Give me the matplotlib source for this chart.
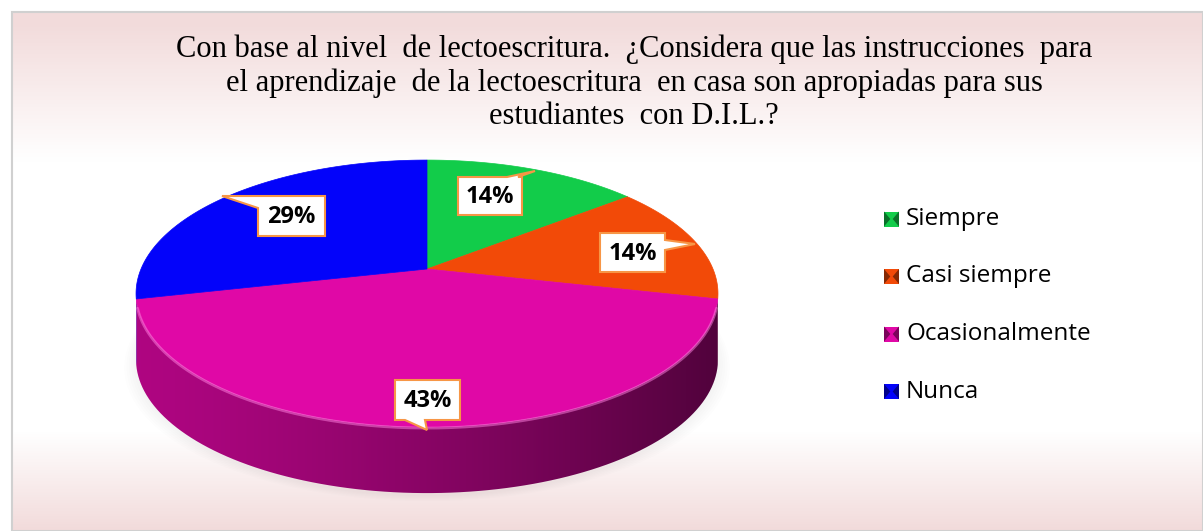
import numpy as np
import matplotlib.pyplot as plt
from matplotlib.patches import Polygon, Rectangle

# datos
categorias = ['Siempre', 'Casi siempre', 'Ocasionalmente', 'Nunca']
frecuencias = [1, 1, 3, 2]
colores = [(0.07, 0.80, 0.29), (0.95, 0.29, 0.03), (0.88, 0.03, 0.65), (0.01, 0.01, 0.98)]
titulo = ('Con base al nivel  de lectoescritura.  \u00bfConsidera que las instrucciones  para\n'
          'el aprendizaje  de la lectoescritura  en casa son apropiadas para sus\n'
          'estudiantes  con D.I.L.?')

W, H = 1203, 531
fig = plt.figure(figsize=(W / 100, H / 100), dpi=100)
ax = fig.add_axes([0, 0, 1, 1])
ax.set_xlim(0, W)
ax.set_ylim(H, 0)
ax.axis('off')

# fondo con degradado
yy = np.linspace(0, 1, 300)[:, None]
top = np.clip(1 - (yy * H - 12) / 140, 0, 1)
bot = np.clip((yy * H - 430) / 100, 0, 1)
a = np.maximum(top, bot)
rosa = np.array([0.95, 0.86, 0.86])
img = np.ones((300, 1, 3)) * (1 - a[..., None]) + rosa * a[..., None]
ax.imshow(img, extent=(12, W, H, 12), aspect='auto', zorder=0)
ax.add_patch(Rectangle((12, 12), W - 12, H - 12, fill=False, ec='#d0d0d0', lw=1.5, zorder=1))

ax.text(634, 83, titulo, ha='center', va='center', fontsize=22,
        family='Liberation Serif', linespacing=1.2, zorder=5)

# pastel 3D (proyeccion en perspectiva)
cx, cy, sx, sy, k, prof = 427, 269, 286, 129, 0.184, 66


def proj(t):
    u, v = np.cos(t), np.sin(t)
    d = 1 + k * v
    return cx + sx * u / d, cy - sy * v / d


total = sum(frecuencias)
fr = np.array(frecuencias) / total
bordes = np.pi / 2 - 2 * np.pi * np.concatenate([[0], np.cumsum(fr)])
t_vis = np.arcsin(k)
vis0, vis1 = -np.pi + t_vis, -t_vis  # arco frontal visible

# sombra suave
for j in range(6):
    ts = np.linspace(0, 2 * np.pi, 200)
    px, py = proj(ts)
    ax.fill(cx + (px - cx) * (1 + 0.008 * j), py + prof + 3 + j, color='#999999', alpha=0.02, lw=0, zorder=1.5)

xg = np.linspace(0, 1, 400)[None, :]
for i, c in enumerate(colores):
    t0, t1 = bordes[i], bordes[i + 1]  # t0 > t1
    # lateral
    for off in (0, -2 * np.pi, 2 * np.pi):
        a0, a1 = min(t0 + off, vis1), max(t1 + off, vis0)
        if a0 > a1:
            ts = np.linspace(a0, a1, 100)
            px, py = proj(ts)
            poly = np.vstack([np.column_stack([px, py]),
                              np.column_stack([px[::-1], py[::-1] + prof])])
            pat = Polygon(poly, closed=True, fc='none', ec='none', zorder=2)
            ax.add_patch(pat)
            f = 0.78 - 0.42 * xg ** 1.3
            g = np.ones((60, 1))
            im = np.array(c)[None, None, :] * (f * g)[..., None]
            imh = ax.imshow(np.clip(im, 0, 1), extent=(cx - sx * 1.03, cx + sx * 1.03, cy + 260, cy - 30),
                            aspect='auto', zorder=2, interpolation='bilinear')
            imh.set_clip_path(pat)
    # cara superior
    ts = np.linspace(t0, t1, 200)
    px, py = proj(ts)
    poly = np.vstack([[cx, cy], np.column_stack([px, py])])
    ax.add_patch(Polygon(poly, closed=True, fc=c, ec=c, lw=0.5, zorder=3))

# brillo del borde frontal
ts = np.linspace(vis0 + 0.1, vis1 - 0.1, 200)
px, py = proj(ts)
ax.plot(px, py + 1, color='#ff80e0', alpha=0.5, lw=2, zorder=4, solid_capstyle='round')

# etiquetas con globo
naranja = '#f79646'


def globo(x0, y0, x1, y1, lado, b0, b1, tip, texto):
    if lado == 'top':
        pts = [(x0, y0), (b0, y0), tip, (b1, y0), (x1, y0), (x1, y1), (x0, y1)]
    elif lado == 'bottom':
        pts = [(x0, y0), (x1, y0), (x1, y1), (b1, y1), tip, (b0, y1), (x0, y1)]
    elif lado == 'left':
        pts = [(x0, y0), (x1, y0), (x1, y1), (x0, y1), (x0, b1), tip, (x0, b0)]
    else:
        pts = [(x0, y0), (x1, y0), (x1, b0), tip, (x1, b1), (x1, y1), (x0, y1)]
    ax.add_patch(Polygon(pts, closed=True, fc='white', ec=naranja, lw=1.5, zorder=6))
    ax.text((x0 + x1) / 2, (y0 + y1) / 2 + 1, texto, ha='center', va='center',
            fontsize=17, fontweight='bold', family='Open Sans', zorder=7)


pct = ['%d%%' % round(v * 100) for v in fr]
globo(458, 177, 522, 215, 'top', 507, 518, (535, 171), pct[0])
globo(600, 233, 665, 272, 'right', 240, 250, (695, 244), pct[1])
globo(395, 380, 460, 420, 'bottom', 405, 425, (427, 430), pct[2])
globo(258, 196, 325, 236, 'left', 196, 208, (222, 196), pct[3])

# leyenda
for i, (nom, c) in enumerate(zip(categorias, colores)):
    y = 219 + i * 57.5
    x0, s = 884, 15
    ax.add_patch(Rectangle((x0, y - s / 2), s, s, fc=c, ec='none', zorder=5))
    osc = tuple(np.array(c) * 0.55)
    ax.add_patch(Polygon([(x0, y - s / 2), (x0 + s * 0.42, y), (x0, y + s / 2)], fc=osc, ec='none', zorder=6))
    ax.add_patch(Polygon([(x0 + s, y - s / 2), (x0 + s * 0.58, y), (x0 + s, y + s / 2)], fc=osc, ec='none', zorder=6))
    ax.text(906, y, nom, ha='left', va='center', fontsize=17.5, family='Open Sans', zorder=5)

fig.savefig('out.png', dpi=100)
